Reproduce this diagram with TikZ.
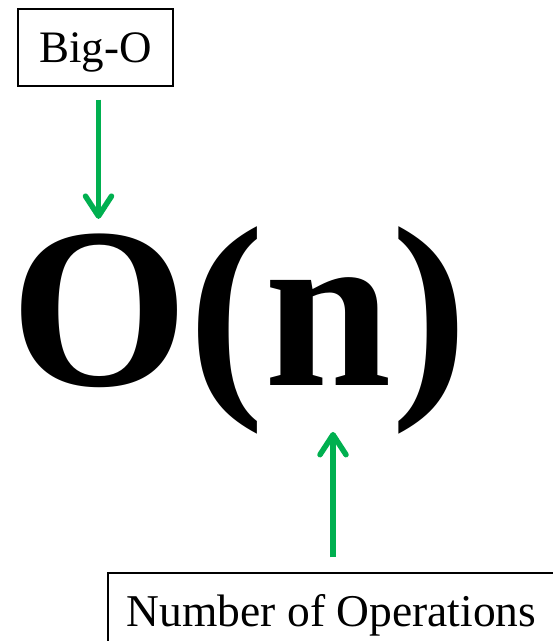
\documentclass[tikz,border=0pt]{standalone}
\usepackage{fontspec}
\setmainfont{Liberation Serif}
\usetikzlibrary{positioning, arrows.meta}

\definecolor{pointergreen}{RGB}{0,176,80}

\begin{document}
\begin{tikzpicture}[
        x=1pt, y=1pt,
        % Label boxes
        labelbox/.style={
                rectangle, draw, line width=1.3pt,
                minimum width=155pt, minimum height=77pt,
                text height=30pt, text depth=0pt,
                inner sep=0pt,
                font=\fontsize{45}{50}\selectfont
            },
        % Green pointer arrows
        pointer/.style={
                draw=pointergreen, line width=5.5pt,
                -{Straight Barb[round, line width=5.5pt, length=20pt, width=26pt]}
            }
    ]
    \useasboundingbox (0,0) rectangle (553,641);

    %% ---- The expression ----
    \node[anchor=base west, inner sep=0pt,
        font=\fontsize{229}{250}\selectfont\bfseries] (expr) at (10,255) {O(n)};

    %% ---- Labels ----
    \node[labelbox] (bigo) at (95.5,593.5) {Big-O};
    \node[labelbox, minimum width=447pt, font=\fontsize{45.5}{50}\selectfont]
    (ops) at (331.5,29.5) {Number of Operations};

    %% ---- Pointers ----
    \draw[pointer, shorten <=13pt, shorten >=8pt]
    ([xshift=3pt] bigo.south) -- ([xshift=3pt] bigo.south |- expr.north);
    \draw[pointer, shorten <=15pt, shorten >=-3pt]
    ([xshift=1.5pt] ops.north) -- ([xshift=1.5pt] ops.north |- expr.south);

\end{tikzpicture}
\end{document}
